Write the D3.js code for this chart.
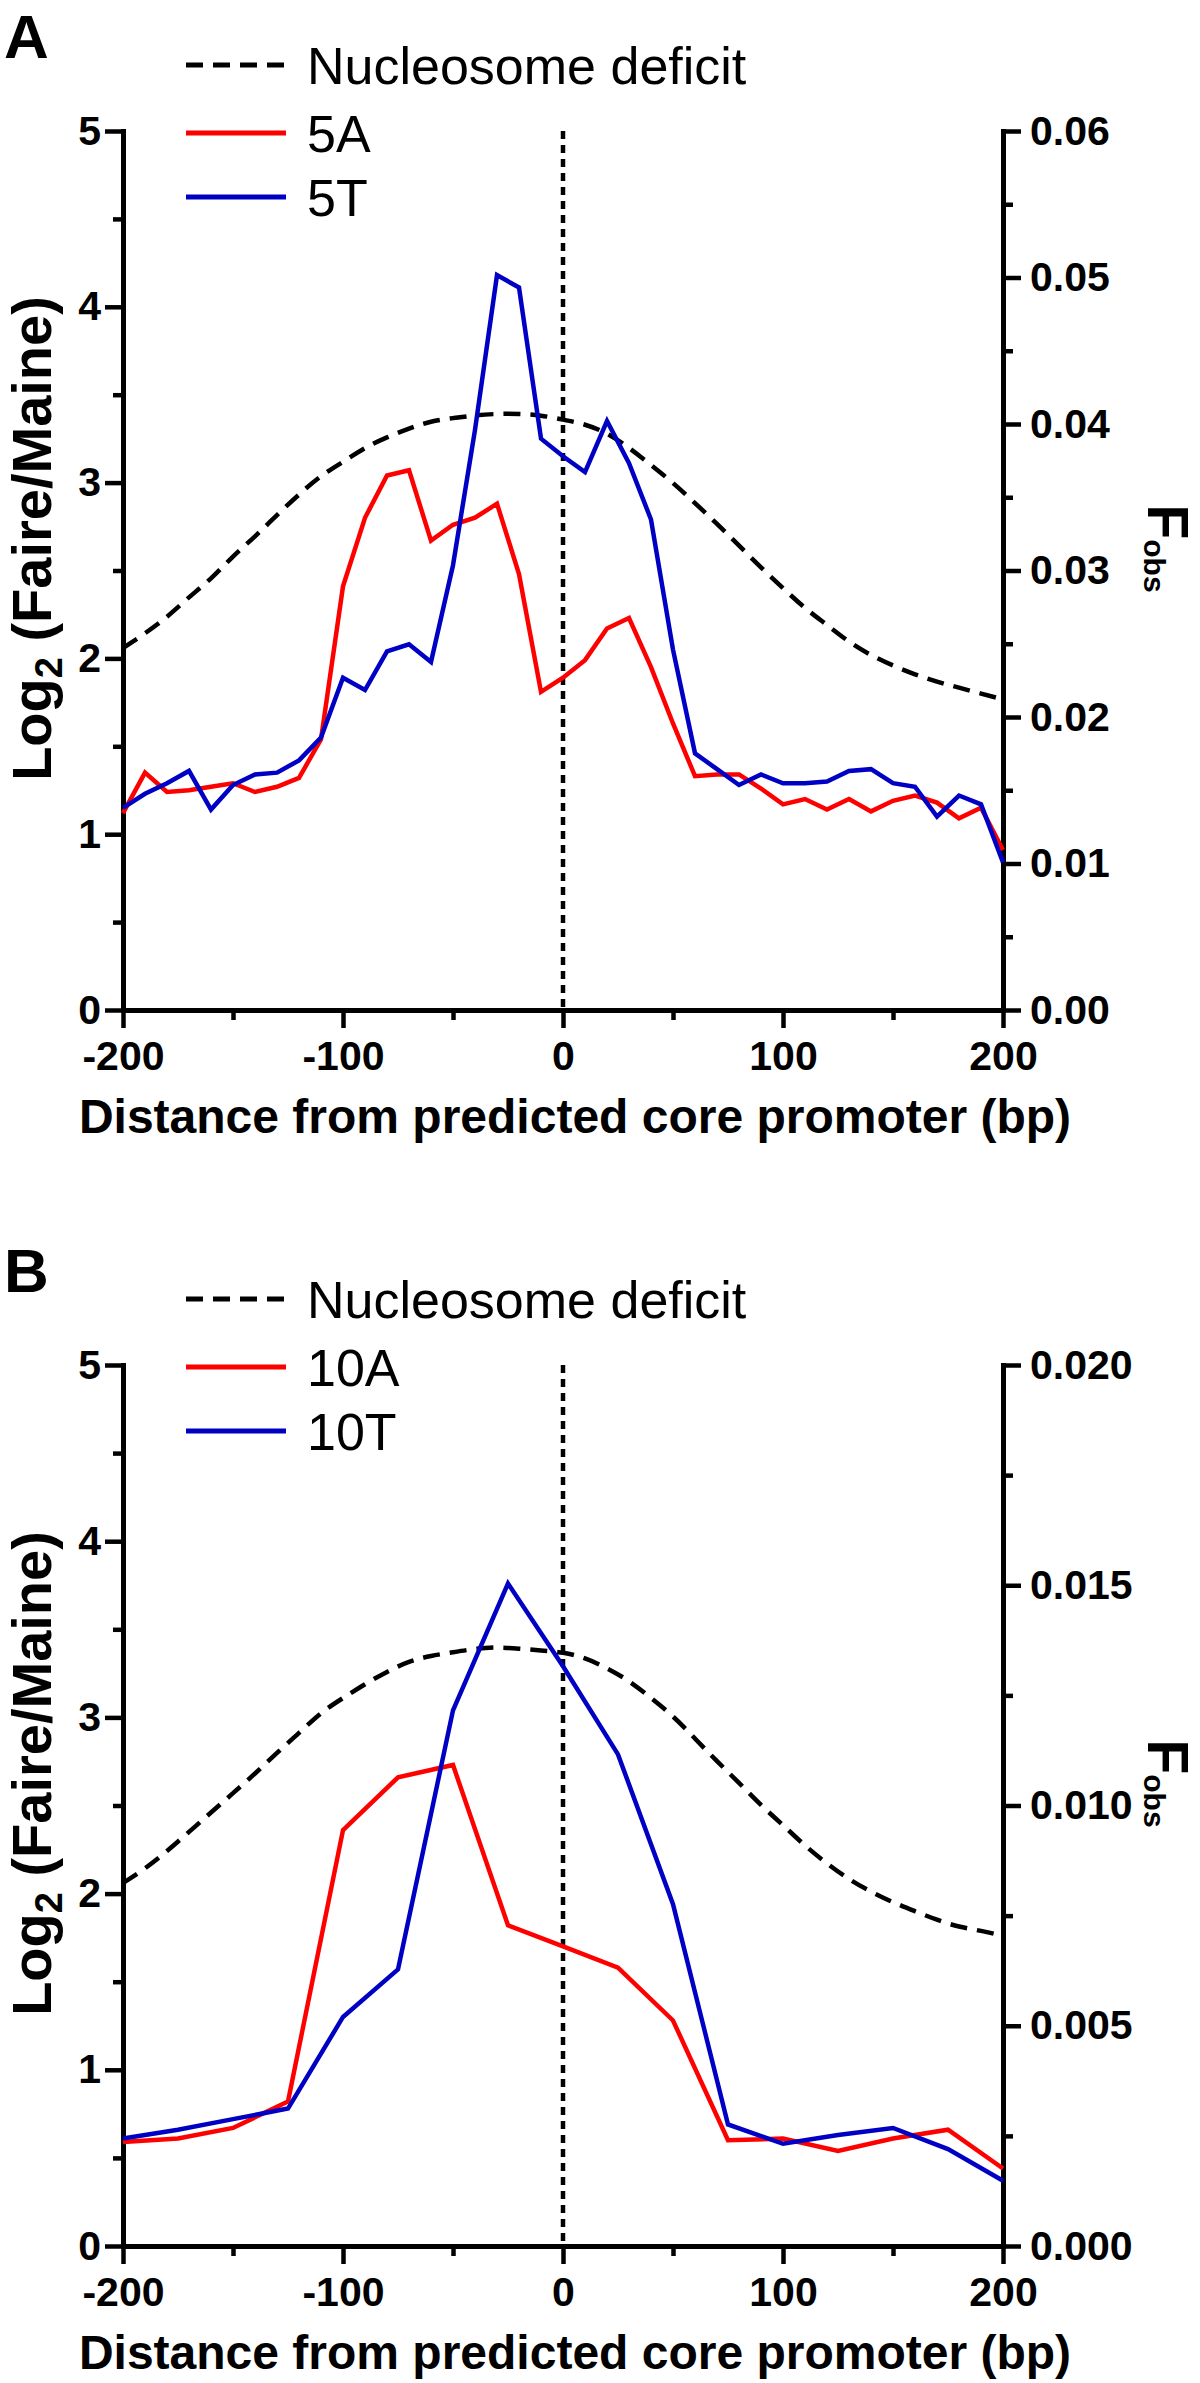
<!DOCTYPE html>
<html>
<head>
<meta charset="utf-8">
<script src="https://cdnjs.cloudflare.com/ajax/libs/d3/7.8.5/d3.min.js"></script>
<style>
  html, body { margin: 0; padding: 0; background: #fff; }
  svg { display: block; }
  text { font-family: "Liberation Sans", Arial, sans-serif; fill: #000; }
</style>
</head>
<body>
<svg id="chart" width="1200" height="2383"></svg>
<script>
// ---------- Panel A data (10 bp bins) ----------
const positionsA = [-200,-190,-180,-170,-160,-150,-140,-130,-120,-110,-100,-90,-80,-70,-60,-50,-40,-30,-20,-10,0,10,20,30,40,50,60,70,80,90,100,110,120,130,140,150,160,170,180,190,200];
const log2_5A = [1.12,1.35,1.24,1.25,1.27,1.29,1.24,1.27,1.32,1.54,2.41,2.80,3.04,3.07,2.67,2.76,2.80,2.88,2.48,1.81,1.89,1.99,2.17,2.23,1.95,1.63,1.33,1.34,1.34,1.26,1.17,1.20,1.14,1.20,1.13,1.19,1.22,1.18,1.09,1.15,0.91];
const log2_5T = [1.15,1.23,1.29,1.36,1.14,1.28,1.34,1.35,1.42,1.55,1.89,1.82,2.04,2.08,1.98,2.53,3.30,4.18,4.11,3.25,3.15,3.06,3.35,3.11,2.79,2.05,1.46,1.37,1.28,1.34,1.29,1.29,1.30,1.36,1.37,1.29,1.27,1.10,1.22,1.17,0.84];
const fobsA = [0.0247,0.0257,0.0268,0.0282,0.0294,0.0310,0.0323,0.0338,0.0352,0.0365,0.0374,0.0384,0.0391,0.0397,0.0402,0.0404,0.0406,0.0407,0.0407,0.0406,0.0403,0.0400,0.0394,0.0384,0.0372,0.0360,0.0346,0.0332,0.0317,0.0302,0.0288,0.0274,0.0263,0.0251,0.0242,0.0235,0.0229,0.0224,0.0220,0.0216,0.0212];

// ---------- Panel B data (25 bp bins) ----------
const positionsB = [-200,-175,-150,-125,-100,-75,-50,-25,0,25,50,75,100,125,150,175,200];
const log2_10A = [0.59,0.61,0.67,0.82,2.36,2.66,2.73,1.82,1.70,1.58,1.28,0.60,0.61,0.54,0.61,0.66,0.44];
const log2_10T = [0.61,0.66,0.72,0.78,1.30,1.57,3.04,3.76,3.29,2.79,1.94,0.69,0.58,0.63,0.67,0.55,0.37];
const fobsPositionsB = [-200,-190,-180,-170,-160,-150,-140,-130,-120,-110,-100,-90,-80,-70,-60,-50,-40,-30,-20,-10,0,10,20,30,40,50,60,70,80,90,100,110,120,130,140,150,160,170,180,190,200];
const fobsB = [0.00824,0.00856,0.00896,0.00940,0.00984,0.01028,0.01072,0.01120,0.01164,0.01212,0.01244,0.01276,0.01304,0.01328,0.01340,0.01348,0.01356,0.01360,0.01356,0.01352,0.01348,0.01336,0.01312,0.01284,0.01244,0.01204,0.01152,0.01100,0.01052,0.01000,0.00956,0.00908,0.00868,0.00832,0.00804,0.00780,0.00760,0.00740,0.00724,0.00716,0.00704];

// ---------- Axis ticks ----------
const xMajorTicks = [-200,-100,0,100,200];
const xMajorLabels = ["-200","-100","0","100","200"];
const xMinorTicks = [-150,-50,50,150];
const yLeftMajor = [0,1,2,3,4,5];
const yLeftMinor = [0.5,1.5,2.5,3.5,4.5];
const yRightMajorA = [0,0.01,0.02,0.03,0.04,0.05,0.06];
const yRightMinorA = [0.005,0.015,0.025,0.035,0.045,0.055];
const yRightLabelsA = ["0.00","0.01","0.02","0.03","0.04","0.05","0.06"];
const yRightMajorB = [0,0.005,0.01,0.015,0.02];
const yRightMinorB = [0.0025,0.0075,0.0125,0.0175];
const yRightLabelsB = ["0.000","0.005","0.010","0.015","0.020"];

const panels = [
  { letter: "A", top: 131, bottom: 1010, pos: positionsA, red: log2_5A, blue: log2_5T,
    redName: "5A", blueName: "5T", fPos: positionsA, fobs: fobsA, fMax: 0.06,
    rMajor: yRightMajorA, rMinor: yRightMinorA, rLabels: yRightLabelsA },
  { letter: "B", top: 1365, bottom: 2246, pos: positionsB, red: log2_10A, blue: log2_10T,
    redName: "10A", blueName: "10T", fPos: fobsPositionsB, fobs: fobsB, fMax: 0.02,
    rMajor: yRightMajorB, rMinor: yRightMinorB, rLabels: yRightLabelsB }
];

const svg = d3.select("#chart");
const left = 123, right = 1003;
const RED = "#ff0000", BLUE = "#0000c4";
const lw = 4.5;
const tickFont = 41;

panels.forEach(p => {
  const g = svg.append("g");
  const x = d3.scaleLinear().domain([-200, 200]).range([left, right]);
  const yL = d3.scaleLinear().domain([0, 5]).range([p.bottom, p.top]);
  const yR = d3.scaleLinear().domain([0, p.fMax]).range([p.bottom, p.top]);

  const styleAxis = sel => {
    sel.select(".domain").attr("stroke", "#000").attr("stroke-width", 5).attr("stroke-linecap", "square");
    sel.selectAll(".tick line").attr("stroke", "#000").attr("stroke-width", 4.5);
    sel.selectAll("text").attr("font-weight", "bold").attr("font-size", tickFont).attr("fill", "#000")
      .style("font-family", '"Liberation Sans", Arial, sans-serif');
  };

  // X axis
  g.append("g").attr("transform", `translate(0,${p.bottom})`)
    .call(d3.axisBottom(x).tickValues(xMinorTicks).tickSize(10).tickSizeOuter(0).tickFormat(""))
    .call(styleAxis);
  const xa = g.append("g").attr("transform", `translate(0,${p.bottom})`)
    .call(d3.axisBottom(x).tickValues(xMajorTicks).tickSize(18).tickSizeOuter(0).tickPadding(13)
      .tickFormat((d, i) => xMajorLabels[i]))
    .call(styleAxis);
  xa.selectAll("text").attr("dy", "0.71em");

  // Left axis
  g.append("g").attr("transform", `translate(${left},0)`)
    .call(d3.axisLeft(yL).tickValues(yLeftMinor).tickSize(10).tickSizeOuter(0).tickFormat(""))
    .call(styleAxis);
  g.append("g").attr("transform", `translate(${left},0)`)
    .call(d3.axisLeft(yL).tickValues(yLeftMajor).tickSize(18).tickSizeOuter(0).tickPadding(4).tickFormat(d3.format("d")))
    .call(styleAxis);

  // Right axis
  g.append("g").attr("transform", `translate(${right},0)`)
    .call(d3.axisRight(yR).tickValues(p.rMinor).tickSize(10).tickSizeOuter(0).tickFormat(""))
    .call(styleAxis);
  g.append("g").attr("transform", `translate(${right},0)`)
    .call(d3.axisRight(yR).tickValues(p.rMajor).tickSize(18).tickSizeOuter(0).tickPadding(9)
      .tickFormat((d, i) => p.rLabels[i]))
    .call(styleAxis);

  // vertical dotted line at 0
  g.append("line").attr("x1", x(0)).attr("x2", x(0)).attr("y1", yL(5)).attr("y2", yL(0))
    .attr("stroke", "#000").attr("stroke-width", 4.5).attr("stroke-dasharray", "8,6");

  // nucleosome deficit (right axis)
  const fData = p.fPos.map((d, i) => [d, p.fobs[i]]);
  g.append("path").datum(fData)
    .attr("d", d3.line().x(d => x(d[0])).y(d => yR(d[1])).curve(d3.curveBasis))
    .attr("fill", "none").attr("stroke", "#000").attr("stroke-width", 4.5).attr("stroke-dasharray", "17,10");

  // series
  const line = d3.line().x(d => x(d[0])).y(d => yL(d[1]));
  g.append("path").datum(p.pos.map((d, i) => [d, p.red[i]])).attr("d", line)
    .attr("fill", "none").attr("stroke", RED).attr("stroke-width", lw).attr("stroke-linejoin", "miter");
  g.append("path").datum(p.pos.map((d, i) => [d, p.blue[i]])).attr("d", line)
    .attr("fill", "none").attr("stroke", BLUE).attr("stroke-width", lw).attr("stroke-linejoin", "miter");

  // panel letter
  g.append("text").attr("x", 4).attr("y", p.top - 73).attr("font-size", 62).attr("font-weight", "bold").text(p.letter);

  // legend
  const legend = [
    { y: p.top - 66, stroke: "#000", dash: "17,10", label: "Nucleosome deficit" },
    { y: p.top + 2, stroke: RED, dash: null, label: p.redName },
    { y: p.top + 66, stroke: BLUE, dash: null, label: p.blueName }
  ];
  legend.forEach(l => {
    const ln = g.append("line").attr("x1", 186).attr("x2", 286).attr("y1", l.y).attr("y2", l.y)
      .attr("stroke", l.stroke).attr("stroke-width", 5);
    if (l.dash) ln.attr("stroke-dasharray", l.dash);
    g.append("text").attr("x", 307).attr("y", l.y).attr("dy", "0.36em").attr("font-size", 52).text(l.label);
  });

  // x title
  g.append("text").attr("x", 575).attr("y", p.bottom + 123).attr("text-anchor", "middle")
    .attr("font-size", 48).attr("font-weight", "bold").text("Distance from predicted core promoter (bp)");

  // y title (left)
  const cy = (p.top + p.bottom) / 2;
  const yt = g.append("text").attr("transform", `translate(51,${cy - 32}) rotate(-90)`).attr("text-anchor", "middle")
    .attr("font-size", 56).attr("font-weight", "bold");
  yt.append("tspan").text("Log");
  yt.append("tspan").attr("font-size", 38).attr("dy", 11).text("2");
  yt.append("tspan").attr("dy", -11).text(" (Faire/Maine)");

  // right title
  const rt = g.append("text").attr("transform", `translate(1148,${cy - 22}) rotate(90)`).attr("text-anchor", "middle")
    .attr("font-size", 57).attr("font-weight", "bold");
  rt.append("tspan").text("F");
  rt.append("tspan").attr("font-size", 30).attr("dy", 4).text("obs");
});
</script>
</body>
</html>
